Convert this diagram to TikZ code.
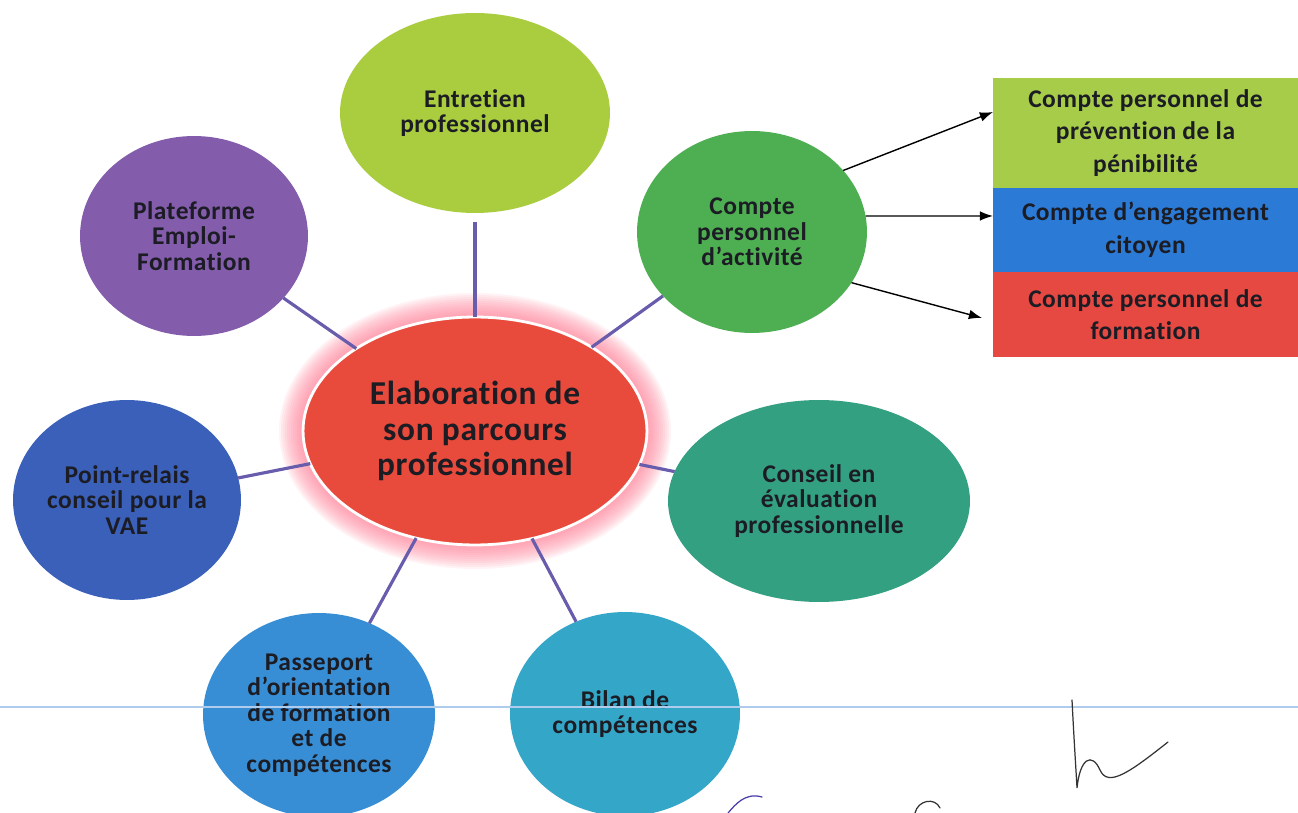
\documentclass[tikz,border=0pt]{standalone}
\usepackage{fontspec}
\setmainfont{Carlito}[Ligatures={TeX,NoCommon}, LetterSpace=2]
\usepackage{tikz}
\usetikzlibrary{shapes.geometric, arrows.meta, positioning, calc}
\definecolor{mydark}{RGB}{28,28,36}
\definecolor{mylime}{RGB}{170,205,64}
\definecolor{mypurple}{RGB}{132,92,172}
\definecolor{mygreen}{RGB}{78,174,82}
\definecolor{myred}{RGB}{232,74,60}
\definecolor{myglow}{RGB}{255,120,145}
\definecolor{myroyal}{RGB}{58,96,186}
\definecolor{myteal}{RGB}{52,160,130}
\definecolor{mysky}{RGB}{56,142,212}
\definecolor{mycyan}{RGB}{52,166,200}
\definecolor{myspoke}{RGB}{104,92,172}
\definecolor{acclime}{RGB}{166,204,74}
\definecolor{accblue}{RGB}{42,122,214}
\definecolor{accred}{RGB}{230,72,66}
\definecolor{rulblue}{RGB}{176,204,236}
\definecolor{inkblue}{RGB}{70,60,170}
\tikzset{
  bubble/.style={ellipse, inner sep=0pt, outer sep=0pt, align=center,
    font=\fontsize{14.5}{14.5}\selectfont\bfseries, text=mydark},
  hub/.style={ellipse, inner sep=0pt, outer sep=0pt, align=center,
    fill=myred, draw=white, line width=1.6pt,
    font=\fontsize{19}{20}\selectfont\bfseries, text=mydark},
  account/.style={rectangle, minimum width=6.1cm, inner sep=0pt, outer sep=0pt,
    align=center, font=\fontsize{14.5}{18.5}\selectfont\bfseries, text=mydark},
  spoke/.style={line width=1.8pt, color=myspoke},
  arrow/.style={-{Latex[length=7.5pt,width=5.5pt]}, line width=0.8pt, color=black},
  ink/.style={line width=0.7pt, line cap=round}
}
\begin{document}
\begin{tikzpicture}[x=0.02cm, y=-0.02cm]
  \useasboundingbox (0,0) rectangle (1298,813);
  \clip (0,0) rectangle (1298,813);

  % Halo behind the hub
  \foreach \r in {24,22,...,2}
    \fill[myglow, opacity=0.09] (475,431) ellipse [x radius=172+\r, y radius=114+\r];

  % Hub
  \node[hub, minimum width=6.88cm, minimum height=4.56cm] (centre) at (475,431)
    {Elaboration de\\son parcours\\professionnel};

  % Satellites
  \node[bubble, fill=mylime, minimum width=5.4cm, minimum height=4.0cm] (entretien) at (475,113)
    {Entretien\\professionnel};
  \node[bubble, fill=mypurple, minimum width=4.56cm, minimum height=4.0cm] (plateforme) at (194,236)
    {Plateforme\\Emploi-\\Formation};
  \node[bubble, fill=mygreen, minimum width=4.6cm, minimum height=4.04cm] (cpa) at (752,232)
    {Compte\\personnel\\d'activité};
  \node[bubble, fill=myroyal, minimum width=4.56cm, minimum height=4.0cm] (relais) at (127,500)
    {Point-relais\\conseil pour la\\VAE};
  \node[bubble, fill=myteal, minimum width=6.04cm, minimum height=4.04cm] (conseil) at (819,501)
    {Conseil en\\évaluation\\professionnelle};
  \node[bubble, fill=mysky, minimum width=4.64cm, minimum height=4.08cm] (passeport) at (319,715)
    {Passeport\\d'orientation\\de formation\\et de\\compétences};
  \node[bubble, fill=mycyan, minimum width=4.6cm, minimum height=4.08cm] (bilan) at (625,714)
    {Bilan de\\compétences};

  % Spokes to the hub
  \draw[spoke, shorten <=5pt] (entretien) -- (centre);
  \draw[spoke] (plateforme) -- (centre);
  \draw[spoke] (cpa) -- (centre);
  \draw[spoke] (relais) -- (centre);
  \draw[spoke] (conseil) -- (centre);
  \draw[spoke] (passeport) -- (centre);
  \draw[spoke] (bilan) -- (centre);

  % Accounts grouped in the CPA
  \node[account, fill=acclime, minimum height=2.2cm] (prevention) at (1145.5,133)
    {Compte personnel de\\prévention de la\\pénibilité};
  \node[account, fill=accblue, minimum height=1.68cm, below=0pt of prevention] (engagement)
    {Compte d'engagement\\citoyen};
  \node[account, fill=accred, minimum height=1.7cm, below=0pt of engagement] (formation)
    {Compte personnel de\\formation};

  \draw[arrow] (cpa.34) -- ([yshift=0.42cm]prevention.west);
  \draw[arrow] (cpa.8) -- ([yshift=0.28cm]engagement.west);
  \draw[arrow] (cpa.-27) -- ([xshift=-0.22cm, yshift=-0.07cm]formation.west);

  % Page rule and signatures
  \draw[rulblue, line width=1.2pt] (0,707) -- (1298,707);
  \draw[ink, black!80] (1072,700) .. controls (1074,740) and (1076,770) .. (1077,788)
    .. controls (1080,758) and (1092,752) .. (1100,770)
    .. controls (1108,788) and (1130,772) .. (1168,742);
  \draw[ink, inkblue] (762,797) .. controls (745,792) and (735,805) .. (728,813);
  \draw[ink, black!80] (915,813) .. controls (918,800) and (935,797) .. (940,808);
\end{tikzpicture}
\end{document}
